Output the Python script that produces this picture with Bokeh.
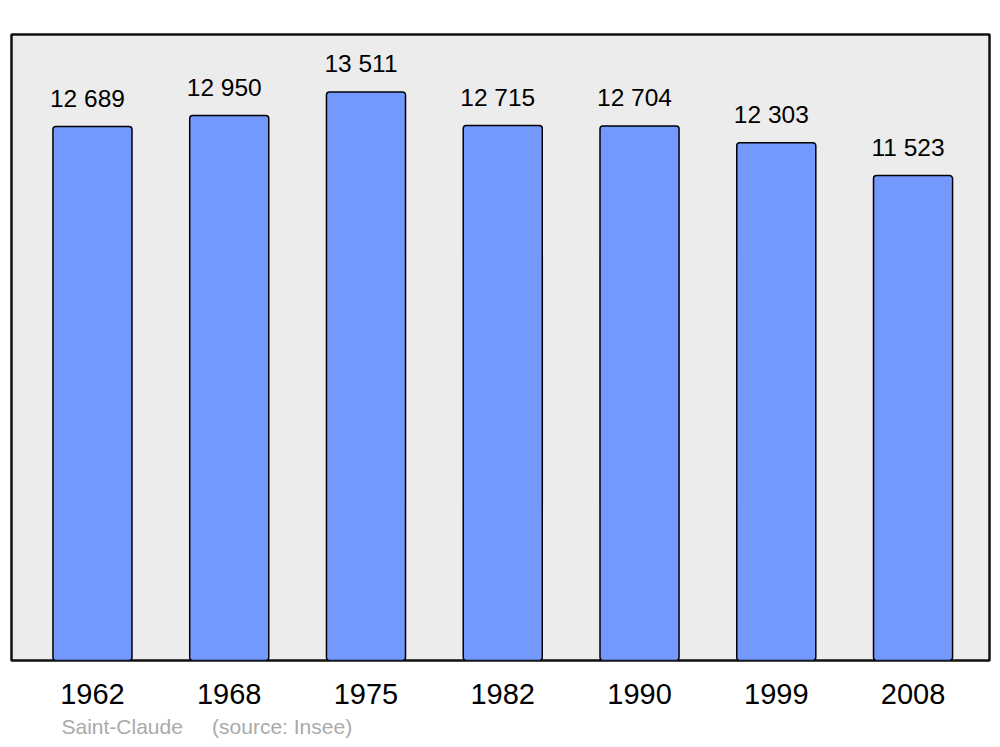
from bokeh.plotting import figure
from bokeh.models import ColumnDataSource, FixedTicker, Range1d, Title
from bokeh.core.properties import value
from bokeh.embed import file_html
from bokeh.resources import INLINE

years = ["1962", "1968", "1975", "1982", "1990", "1999", "2008"]
population = [12689, 12950, 13511, 12715, 12704, 12303, 11523]
value_labels = ["12 689", "12 950", "13 511", "12 715", "12 704", "12 303", "11 523"]
commune = "Saint-Claude"
source_text = "(source: Insee)"

FONT = "Liberation Sans"
idx = list(range(len(years)))
src = ColumnDataSource(dict(x=idx, pop=population, lab=value_labels))

p = figure(width=992, height=743, output_backend="svg", toolbar_location=None,
           x_range=Range1d(-0.592, 6.559), y_range=Range1d(0, 14876),
           min_border_left=11, min_border_right=3, min_border_top=34, min_border_bottom=83)
p.background_fill_color = "#ececec"
p.border_fill_color = "white"
p.outline_line_color = "#111111"
p.outline_line_width = 2.5
p.xgrid.visible = False
p.ygrid.visible = False
p.yaxis.visible = False

p.vbar(x="x", top="pop", bottom=0, width=0.578, source=src,
       fill_color="#7399ff", line_color="black", line_width=1.5, border_radius=3)

p.text(x="x", y="pop", text="lab", source=src, x_offset=-5, y_offset=-28,
       text_align="center", text_baseline="alphabetic",
       text_font=value(FONT), text_font_size="24.5px", text_color="black")

ax = p.xaxis[0]
ax.ticker = FixedTicker(ticks=idx)
ax.major_label_overrides = {i: y for i, y in zip(idx, years)}
ax.axis_line_color = None
ax.major_tick_line_color = None
ax.minor_tick_line_color = None
ax.major_label_standoff = 17
ax.major_label_text_font = FONT
ax.major_label_text_font_size = "29px"
ax.major_label_text_color = "black"

footer = commune + "\u00a0" * 5 + source_text
p.add_layout(Title(text=footer, align="left", offset=50, standoff=12,
                   text_font=FONT, text_font_size="21px", text_font_style="normal",
                   text_color="#aaaaaa"), "below")

open("out.html", "w").write(file_html(p, INLINE))
